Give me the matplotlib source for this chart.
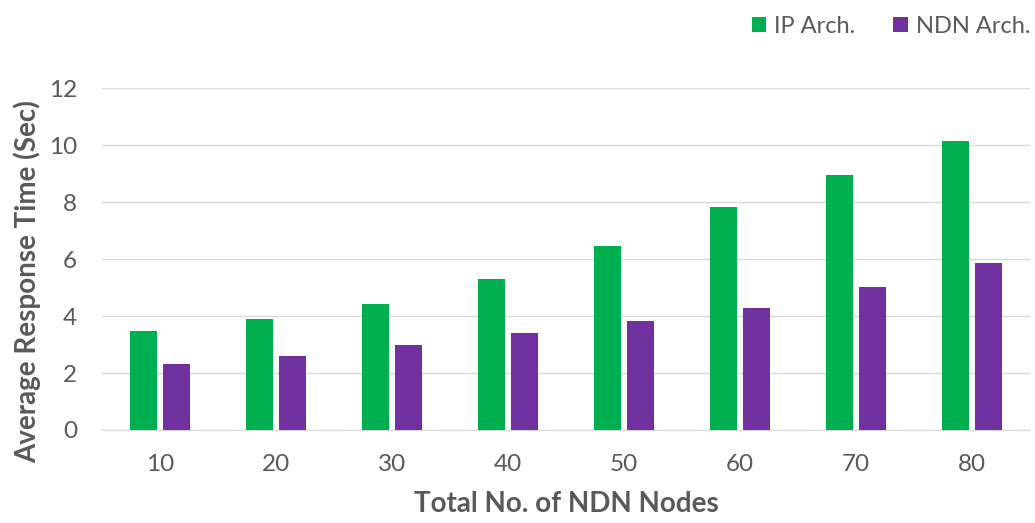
import numpy as np
import matplotlib.pyplot as plt

plt.rcParams['font.family'] = ['Lato', 'DejaVu Sans']

nodes = ["10", "20", "30", "40", "50", "60", "70", "80"]
ip_arch = [3.47, 3.9, 4.42, 5.3, 6.45, 7.82, 8.95, 10.14]
ndn_arch = [2.32, 2.6, 2.98, 3.4, 3.82, 4.28, 5.02, 5.86]

green = "#00B050"
purple = "#7030A0"
grey = "#595959"

fig = plt.figure(figsize=(10.35, 5.23), dpi=100)
ax = fig.add_axes([102 / 1035, 1 - 430 / 523, 928 / 1035, 342 / 523])

x = np.arange(len(nodes))
w = 0.225
gap = 0.03
ax.bar(x - w / 2 - gap, ip_arch, w, color=green, label="IP Arch.", zorder=3)
ax.bar(x + w / 2 + gap, ndn_arch, w, color=purple, label="NDN Arch.", zorder=3)

ax.set_xlim(-0.5, len(nodes) - 0.5)
ax.set_ylim(0, 12)
ax.set_yticks(range(0, 13, 2))
ax.set_xticks(x)
ax.set_xticklabels(nodes)
ax.yaxis.grid(True, color="#D9D9D9", linewidth=1, zorder=0)
for s in ["top", "right", "left"]:
    ax.spines[s].set_visible(False)
ax.spines["bottom"].set_color("#D9D9D9")
ax.tick_params(axis="both", length=0, labelsize=17.5, labelcolor=grey)
ax.tick_params(axis="x", pad=17)
ax.tick_params(axis="y", pad=18)

ax.set_xlabel("Total No. of NDN Nodes", fontsize=20, fontweight="bold", color=grey, labelpad=12)
ax.set_ylabel("Average Response Time (Sec)", fontsize=20, fontweight="bold", color=grey)
ax.yaxis.set_label_coords(-0.066, 0.433)

fig.legend(loc="upper right", bbox_to_anchor=(1.016, 1.01), ncol=2, frameon=False,
           fontsize=17, labelcolor=grey, handlelength=0.6, handleheight=0.6,
           handletextpad=0.35, columnspacing=1.6)

fig.savefig("out.png", dpi=100)
